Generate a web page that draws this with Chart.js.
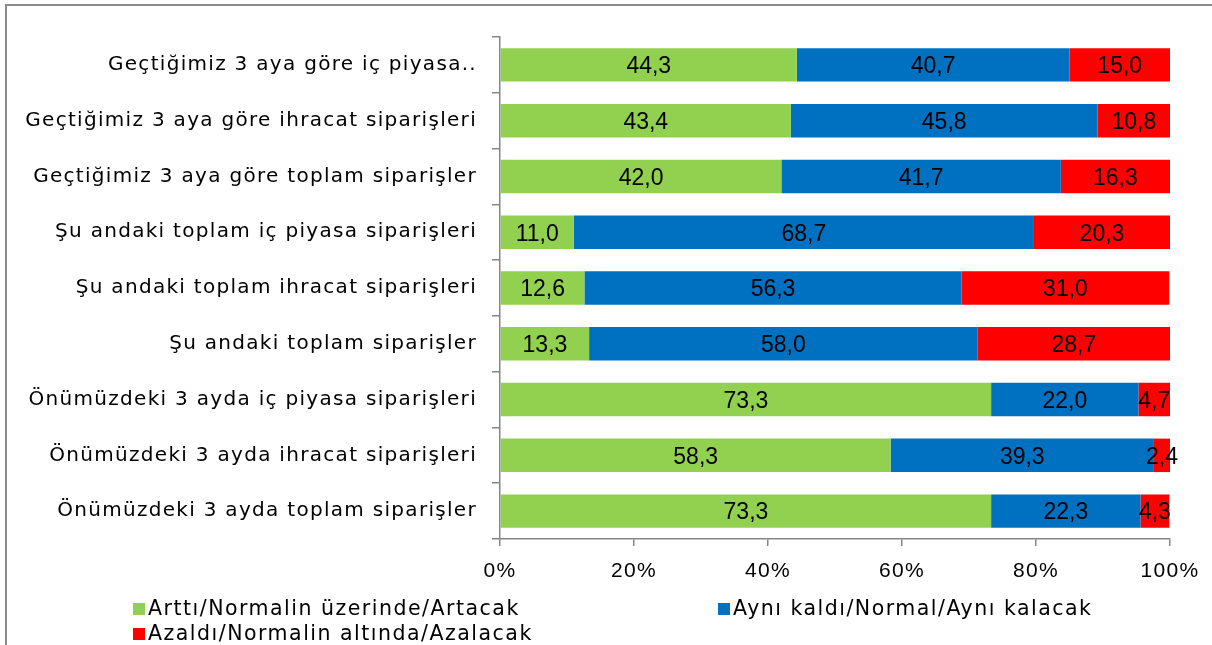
<!DOCTYPE html>
<html>
<head>
<meta charset="utf-8">
<script src="https://cdn.jsdelivr.net/npm/chart.js@4"></script>
<style>
  html, body { margin: 0; padding: 0; background: #fff; }
  #wrap { position: relative; width: 1212px; height: 645px; overflow: hidden; }
  #frame { position: absolute; left: 5px; top: 4px; width: 1300px; height: 700px;
           border-left: 2px solid #8c8c8c; border-top: 2px solid #8c8c8c; }
  #myChart { position: absolute; left: 0; top: 0; }
  .leg { position: absolute; font: 20.5px "DejaVu Sans", sans-serif; letter-spacing: 1.5px; color: #000; white-space: nowrap; }
  .leg span { display: inline-block; width: 12px; height: 12px; margin-right: 3px; vertical-align: 0px; }
</style>
</head>
<body>
<div id="wrap">
  <div id="frame"></div>
  <canvas id="myChart" width="1212" height="645"></canvas>
  <div id="legend"></div>
</div>
<script>
"use strict";

var categories = [
    "Geçtiğimiz 3 aya göre iç piyasa..",
    "Geçtiğimiz 3 aya göre ihracat siparişleri",
    "Geçtiğimiz 3 aya göre toplam siparişler",
    "Şu andaki toplam iç piyasa siparişleri",
    "Şu andaki toplam ihracat siparişleri",
    "Şu andaki toplam siparişler",
    "Önümüzdeki 3 ayda iç piyasa siparişleri",
    "Önümüzdeki 3 ayda ihracat siparişleri",
    "Önümüzdeki 3 ayda toplam siparişler"
];
var seriesNames = [
    "Arttı/Normalin üzerinde/Artacak",
    "Aynı kaldı/Normal/Aynı kalacak",
    "Azaldı/Normalin altında/Azalacak"
];
var arttı = [44.3, 43.4, 42.0, 11.0, 12.6, 13.3, 73.3, 58.3, 73.3];
var aynı = [40.7, 45.8, 41.7, 68.7, 56.3, 58.0, 22.0, 39.3, 22.3];
var azaldı = [15.0, 10.8, 16.3, 20.3, 31.0, 28.7, 4.7, 2.4, 4.3];
var xTicks = [0, 20, 40, 60, 80, 100];

var colors = ['#92D050', '#0070C0', '#FF0000'];
var FONT = "'DejaVu Sans', sans-serif";
var NUMFONT = "'Liberation Sans', Arial, sans-serif";

// wider text for the axis labels (the original font is a wide one)
var spacing = {
    id: 'spacing',
    beforeDraw: function(chart) { chart.ctx.letterSpacing = '1.3px'; }
};

// values written inside each segment
var segmentLabels = {
    id: 'segmentLabels',
    afterDatasetsDraw: function(chart) {
        var ctx = chart.ctx;
        ctx.save();
        ctx.letterSpacing = '0px';
        ctx.font = '23px ' + NUMFONT;
        ctx.fillStyle = '#000';
        ctx.textAlign = 'center';
        ctx.textBaseline = 'middle';
        chart.data.datasets.forEach(function(ds, i) {
            chart.getDatasetMeta(i).data.forEach(function(bar, j) {
                var cx = (bar.x + bar.base) / 2;
                ctx.fillText(ds.data[j].toFixed(1).replace('.', ','), cx, bar.y + 2);
            });
        });
        ctx.restore();
    }
};

var myChart = document.getElementById('myChart').getContext('2d');
var chart = new Chart(myChart, {
    type: 'bar',
    data: {
        labels: categories,
        datasets: [
            { label: seriesNames[0], data: arttı, backgroundColor: colors[0] },
            { label: seriesNames[1], data: aynı, backgroundColor: colors[1] },
            { label: seriesNames[2], data: azaldı, backgroundColor: colors[2] }
        ]
    },
    options: {
        indexAxis: 'y',
        responsive: false,
        animation: false,
        layout: { padding: { left: 0, right: 42, top: 37, bottom: 51 } },
        datasets: { bar: { categoryPercentage: 1, barPercentage: 0.6 } },
        plugins: { legend: { display: false }, tooltip: { enabled: false } },
        scales: {
            x: {
                stacked: true,
                min: 0,
                max: 100,
                afterBuildTicks: function(scale) {
                    scale.ticks = xTicks.map(function(v) { return { value: v }; });
                },
                afterFit: function(scale) { scale.height = 55; },
                border: { display: true, color: '#868686', width: 1.5 },
                grid: { drawOnChartArea: false, tickLength: 7, color: '#868686', lineWidth: 1.5 },
                ticks: {
                    padding: 13,
                    maxRotation: 0,
                    color: '#000',
                    font: { family: NUMFONT, size: 21 },
                    callback: function(v) { return v + '%'; }
                }
            },
            y: {
                stacked: true,
                afterFit: function(scale) { scale.width = 500; },
                border: { display: true, color: '#868686', width: 1.5 },
                grid: { drawOnChartArea: false, tickLength: 8, color: '#868686', lineWidth: 1.5, offset: true },
                ticks: {
                    padding: 15,
                    color: '#000',
                    font: { family: FONT, size: 20 }
                }
            }
        }
    },
    plugins: [spacing, segmentLabels]
});

// legend laid out in a grid like the original
var legendPos = [[133, 596], [718, 596], [133, 621]];
var legendBox = document.getElementById('legend');
seriesNames.forEach(function(name, i) {
    var d = document.createElement('div');
    d.className = 'leg';
    d.style.left = legendPos[i][0] + 'px';
    d.style.top = legendPos[i][1] + 'px';
    d.innerHTML = '<span style="background:' + colors[i] + '"></span>' + name;
    legendBox.appendChild(d);
});
</script>
</body>
</html>
